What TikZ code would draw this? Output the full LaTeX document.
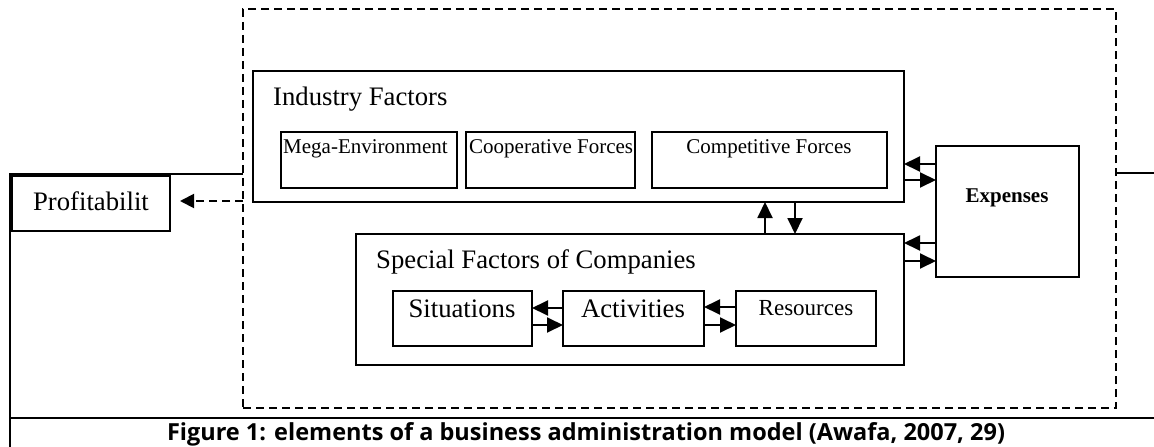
\documentclass[tikz,border=0pt]{standalone}
\usepackage{fontspec}
\setmainfont{Liberation Serif}
\newfontfamily\capfont{Open Sans}
\usetikzlibrary{arrows.meta}
\begin{document}
\begin{tikzpicture}[x=1pt,y=-1pt,
 box/.style={draw,line width=1.9pt,inner sep=0pt,outer sep=0pt,anchor=north west},
 dashbox/.style={draw,line width=1.9pt,dash pattern=on 8pt off 5pt,inner sep=0pt,outer sep=0pt,anchor=north west},
 biglbl/.style={inner sep=0pt,anchor=base west,font=\fontsize{26.7}{30}\selectfont},
 midlbl/.style={inner sep=0pt,anchor=base,font=\fontsize{26.7}{30}\selectfont},
 smalllbl/.style={inner sep=0pt,anchor=base west,font=\fontsize{21}{24}\selectfont},
 smallc/.style={inner sep=0pt,anchor=base,font=\fontsize{21}{24}\selectfont},
 arr/.style={line width=1.9pt,-{Triangle[length=16pt,width=15pt]}},
 darr/.style={line width=1.9pt,dash pattern=on 8pt off 5pt,-{Triangle[length=14pt,width=14pt]}},
 frameline/.style={line width=2pt}]
\useasboundingbox (0,0) rectangle (1154,447);
% dashed group box
\node[dashbox,minimum width=873pt,minimum height=399pt] (grp) at (243,9) {};
% outer frame
\coordinate (fbl) at (10,447);
\coordinate (ftl) at (10,174);
\coordinate (fr) at (1154,173);
\coordinate (cl) at (10,418);
\coordinate (cr) at (1154,418);
\draw[frameline] (fbl) -- (ftl) -- (grp.west |- ftl);
\draw[frameline] (grp.east |- fr) -- (fr);
\draw[frameline] (cl) -- (cr);
% Profitability
\node[box,minimum width=158pt,minimum height=55pt] (prof) at (12,176) {};
\node[midlbl] (proft) at (91,210) {Profitabilit};
% Industry factors
\node[box,minimum width=651pt,minimum height=131pt] (ind) at (253,71) {};
\node[biglbl] (indt) at (273,105) {Industry Factors};
\node[box,minimum width=176pt,minimum height=56pt] (mega) at (281,132) {};
\node[smalllbl] (megat) at (283,153) {Mega-Environment};
\node[box,minimum width=169pt,minimum height=56pt] (coop) at (466,132) {};
\node[smalllbl] (coopt) at (469,153) {Cooperative Forces};
\node[box,minimum width=235pt,minimum height=56pt] (comp) at (652,132) {};
\node[smallc] (compt) at (769,153) {Competitive Forces};
% Expenses
\node[box,minimum width=143pt,minimum height=131pt] (exp) at (936,146) {};
\node[inner sep=0pt,anchor=base,font=\fontsize{21}{24}\selectfont\bfseries] (expt) at (1007,202) {Expenses};
% Special factors
\node[box,minimum width=548pt,minimum height=131pt] (spec) at (356,234) {};
\node[biglbl] (spect) at (376,268) {Special Factors of Companies};
\node[box,minimum width=139pt,minimum height=55pt] (sit) at (393,291) {};
\node[midlbl] (sitt) at (462,317) {Situations};
\node[box,minimum width=141pt,minimum height=55pt] (act) at (563,291) {};
\node[midlbl] (actt) at (633,317) {Activities};
\node[box,minimum width=140pt,minimum height=55pt] (res) at (736,291) {};
\node[inner sep=0pt,anchor=base,font=\fontsize{23}{26}\selectfont] (rest) at (806,315) {Resources};
% connectors
\draw[darr,shorten >=10pt] (grp.west |- 0,201) -- (prof.east |- 0,201);
\draw[arr] (exp.west |- 0,164) -- (ind.east |- 0,164);
\draw[arr] (ind.east |- 0,180) -- (exp.west |- 0,180);
\draw[arr] (exp.west |- 0,243) -- (spec.east |- 0,243);
\draw[arr] (spec.east |- 0,261) -- (exp.west |- 0,261);
\draw[arr] (spec.north -| 765,0) -- (ind.south -| 765,0);
\draw[arr] (ind.south -| 795,0) -- (spec.north -| 795,0);
\draw[arr] (act.west |- 0,308) -- (sit.east |- 0,308);
\draw[arr] (sit.east |- 0,325) -- (act.west |- 0,325);
\draw[arr] (res.west |- 0,307) -- (act.east |- 0,307);
\draw[arr] (act.east |- 0,325) -- (res.west |- 0,325);
% caption
\node[inner sep=0pt,anchor=base,font=\capfont\bfseries\fontsize{23.5}{26}\selectfont] (cap) at (586,440) {Figure 1: elements of a business administration model (Awafa, 2007, 29)};
\end{tikzpicture}
\end{document}
